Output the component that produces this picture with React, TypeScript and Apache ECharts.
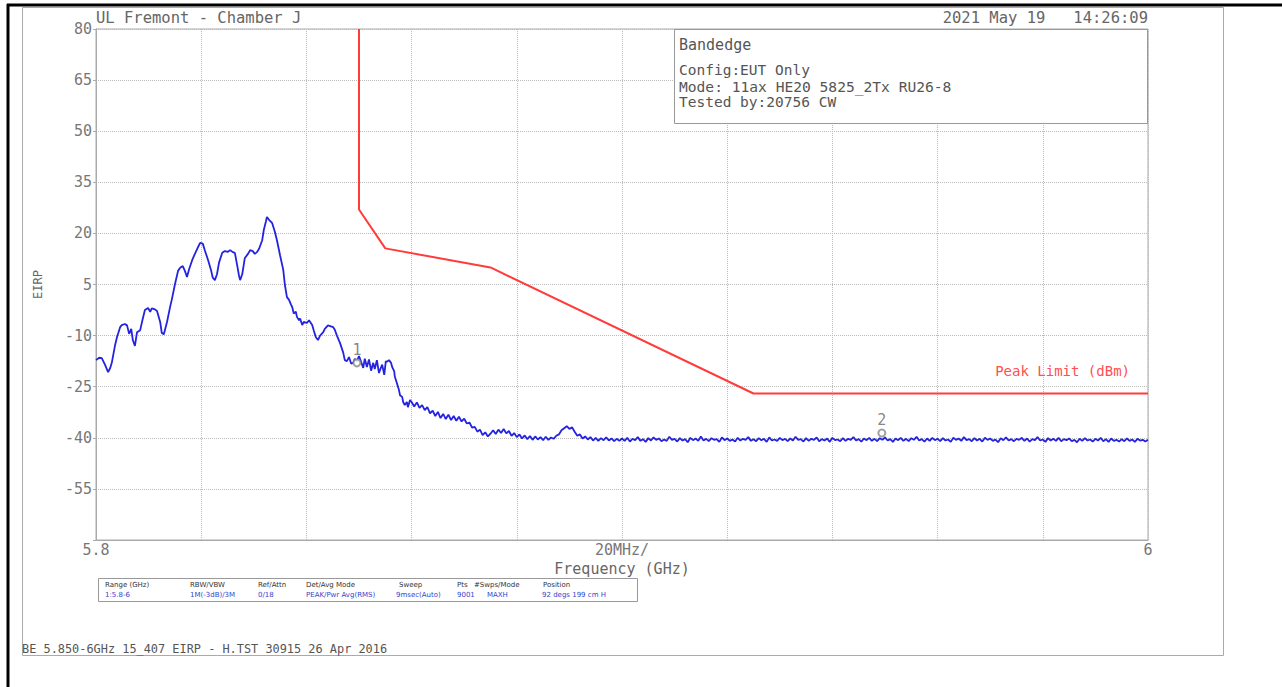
import React, { useEffect, useRef } from "react";
import * as echarts from "echarts";

// ---- data (frequencies in MHz, levels in dBm EIRP) ----
const TRACE_A_MHZ = [
  5800.0, 5800.6, 5801.1, 5801.7, 5802.3, 5802.7, 5803.0, 5803.6, 5804.0, 5804.6,
  5804.9, 5805.5, 5805.9, 5806.3, 5806.7, 5807.0, 5807.4, 5807.8, 5808.4, 5808.9,
  5809.3, 5809.9, 5810.3, 5810.6, 5811.2, 5811.6, 5812.2, 5812.5, 5812.9, 5813.5,
  5814.1, 5814.4, 5815.0, 5815.6, 5816.0, 5816.5, 5816.9, 5817.3, 5817.7, 5818.3,
  5818.8, 5819.4, 5819.8, 5820.3, 5820.7, 5821.3, 5821.9, 5822.2, 5822.6, 5823.0,
  5823.4, 5824.0, 5824.5, 5825.1, 5825.5, 5826.0, 5826.4, 5826.8, 5827.2, 5827.4,
  5827.8, 5828.3, 5828.9, 5829.3, 5829.8, 5830.2, 5830.6, 5831.0, 5831.6, 5831.9,
  5832.3, 5832.5, 5832.9, 5833.5, 5834.0, 5834.4, 5835.0, 5835.6, 5835.9, 5836.3,
  5836.7, 5837.1, 5837.3, 5837.6, 5838.0, 5838.2, 5838.6, 5838.8, 5839.2, 5839.5,
  5840.1, 5840.5, 5841.1, 5841.4, 5841.8, 5842.2, 5842.6, 5843.2, 5843.5, 5844.1,
  5844.5, 5845.1, 5845.4, 5845.8, 5846.4, 5847.0, 5847.3, 5847.7, 5848.1, 5848.5,
  5848.9, 5849.2, 5849.6, 5850.0, 5850.4, 5850.8, 5851.1, 5851.5, 5851.9, 5852.3,
  5852.7, 5853.0, 5853.4, 5853.8, 5854.0, 5854.4, 5854.8, 5855.1, 5855.3, 5855.7,
  5856.1, 5856.3, 5856.7, 5856.8, 5857.2, 5857.6, 5857.8, 5858.2, 5858.4, 5858.7,
  5859.1, 5859.3, 5859.7,
];
const TRACE_A_DBM = [
  -17.2, -16.5, -16.6, -18.5, -20.7, -19.5, -18.0, -13.0, -10.4, -7.5,
  -6.9, -6.6, -7.0, -9.5, -8.0, -11.3, -13.0, -9.0, -8.4, -5.0,
  -2.5, -1.9, -3.0, -2.0, -2.3, -2.8, -6.0, -9.2, -9.6, -6.0,
  -1.5, 0.5, 5.0, 9.0, 9.9, 10.4, 9.0, 7.2, 9.5, 12.2,
  14.0, 16.0, 17.2, 17.0, 15.0, 12.2, 9.0, 7.0, 6.3, 8.0,
  11.5, 14.3, 14.8, 14.6, 15.1, 14.5, 14.3, 11.0, 7.5, 6.3,
  8.0, 12.8, 14.0, 15.1, 14.8, 14.0, 14.5, 15.5, 18.0, 21.0,
  23.5, 24.8, 24.0, 23.0, 20.5, 18.0, 13.5, 9.3, 5.0, 1.3,
  0.5, -1.0, -1.6, -3.5, -3.0, -4.5, -5.5, -5.0, -6.9, -6.0,
  -6.3, -5.5, -6.9, -8.5, -10.5, -11.3, -10.0, -9.0, -8.0, -7.0,
  -7.2, -7.5, -8.3, -10.0, -12.2, -15.0, -17.2, -17.5, -16.3, -18.2,
  -18.0, -16.8, -17.5, -16.0, -17.7, -19.5, -16.8, -19.2, -17.0, -20.3,
  -18.0, -19.8, -17.2, -21.0, -20.1, -18.5, -21.5, -17.5, -17.7, -17.2,
  -18.0, -19.2, -20.5, -22.0, -23.9, -26.0, -27.5, -28.0, -29.5, -30.4,
  -29.5, -31.0, -28.9,
];
// second part of the sweep: regular 0.5 MHz steps from 5860 MHz
const SWEEP_START_MHZ = 5860;
const SWEEP_STEP_MHZ = 0.5;
const TRACE_B_DBM = [
  -29.5, -30.8, -29.6, -31.2, -30.4, -31.9, -31.0, -32.8, -32.0, -33.6,
  -32.4, -34.2, -33.0, -34.5, -33.2, -34.8, -33.6, -35.0, -33.8, -35.2,
  -34.4, -35.8, -35.5, -37.0, -36.8, -38.2, -37.6, -39.2, -38.4, -39.6,
  -38.8, -37.8, -38.9, -37.6, -38.6, -37.4, -38.7, -38.0, -39.4, -38.6,
  -39.8, -39.0, -40.2, -39.3, -40.4, -39.5, -40.6, -39.6, -40.5, -39.8,
  -40.7, -39.7, -40.6, -39.9, -40.3, -39.4, -39.0, -37.8, -37.2, -36.6,
  -37.4, -36.9, -38.2, -39.4, -39.0, -40.2, -39.6, -40.5, -39.8, -40.8,
  -40.0, -40.9, -40.1, -40.7, -39.9, -40.8, -40.2, -41.0, -40.3, -40.9,
  -40.2, -40.9, -40.0, -41.1, -40.3, -40.7, -39.8, -40.9, -40.4, -41.2,
  -40.1, -40.8, -39.9, -40.6, -40.2, -41.0, -40.5, -40.9, -39.7, -40.6,
  -40.3, -41.1, -40.1, -40.8, -40.4, -41.3, -40.0, -40.7, -40.2, -40.9,
  -39.6, -40.8, -40.3, -41.0, -40.1, -40.6, -40.4, -41.2, -39.9, -40.7,
  -40.2, -40.9, -40.5, -41.1, -40.0, -40.8, -40.3, -40.6, -39.8, -40.9,
  -40.4, -41.0, -40.1, -40.7, -40.3, -41.2, -39.9, -40.8, -40.5, -40.9,
  -40.0, -40.7, -40.3, -41.0, -40.2, -40.8, -39.7, -40.6, -40.4, -41.1,
  -40.1, -40.9, -40.3, -40.6, -39.9, -41.0, -40.4, -40.8, -40.2, -41.2,
  -40.0, -40.7, -40.5, -41.0, -40.1, -40.9, -40.3, -40.6, -39.8, -40.8,
  -40.4, -41.1, -40.2, -40.7, -40.0, -40.9, -40.3, -41.0, -40.1, -40.6,
  -39.9, -40.8, -40.4, -41.2, -40.2, -40.7, -40.0, -40.9, -40.3, -41.0,
  -40.1, -40.6, -39.7, -40.8, -40.4, -41.1, -40.2, -40.9, -40.0, -40.7,
  -40.3, -41.0, -40.1, -40.8, -40.5, -41.2, -40.0, -40.6, -40.2, -40.9,
  -39.8, -40.7, -40.4, -41.0, -40.1, -40.8, -40.3, -41.1, -40.0, -40.6,
  -40.2, -40.9, -40.5, -41.3, -40.1, -40.7, -39.9, -40.8, -40.4, -41.0,
  -40.3, -40.6, -40.0, -40.9, -40.2, -41.1, -40.4, -40.7, -39.8, -40.8,
  -40.5, -41.2, -40.1, -40.8, -40.3, -40.9, -40.0, -41.0, -40.4, -40.7,
  -40.2, -41.0, -40.6, -41.3, -40.3, -40.9, -40.1, -40.8, -40.5, -41.1,
  -40.3, -40.8, -40.0, -41.0, -40.4, -41.2, -40.2, -40.9, -40.6, -41.1,
  -40.4, -41.0, -40.2, -40.9, -40.5, -41.2, -40.3, -40.8, -40.6, -41.1,
  -40.6,
];

const LIMIT_MHZ = [5850, 5850, 5855, 5875, 5925, 6000];
const LIMIT_DBM = [80, 27, 15.6, 10, -27, -27];

const MARKER_MHZ = [5849.6, 5949.4];
const MARKER_DBM = [-18.0, -38.6];
const MARKER_LABELS = ["1", "2"];

const Y_MIN = -70;
const Y_MAX = 80;
const Y_STEP = 15;
const X_MIN = 5800;
const X_MAX = 6000;
const X_STEP = 20;

const TABLE_HEADERS = ["Range (GHz)", "RBW/VBW", "Ref/Attn", "Det/Avg Mode", "Sweep", "Pts", "#Swps/Mode", "Position"];
const TABLE_VALUES = ["1:5.8-6", "1M(-3dB)/3M", "0/18", "PEAK/Pwr Avg(RMS)", "9msec(Auto)", "9001", "MAXH", "92 degs 199 cm H"];
const TABLE_HEADER_X = [105, 190, 258, 306, 399, 457, 474, 543];
const TABLE_VALUE_X = [105, 190, 258, 306, 396, 457, 487, 542];

const MONO = "'DejaVu Sans Mono', monospace";

export default function App() {
  const ref = useRef<HTMLDivElement>(null);

  useEffect(() => {
    if (!ref.current) return;
    const chart = echarts.init(ref.current, null, { renderer: "svg" });

    const trace: number[][] = [];
    TRACE_A_MHZ.forEach((f, i) => trace.push([f, TRACE_A_DBM[i]]));
    TRACE_B_DBM.forEach((v, i) => trace.push([SWEEP_START_MHZ + i * SWEEP_STEP_MHZ, v]));
    const limit = LIMIT_MHZ.map((f, i) => [f, LIMIT_DBM[i]]);
    const markers = MARKER_MHZ.map((f, i) => ({ value: [f, MARKER_DBM[i]], name: MARKER_LABELS[i] }));

    const graphic: any[] = [
      // outer frame
      { type: "line", shape: { x1: 7, y1: 5, x2: 1282, y2: 5 }, style: { stroke: "#000", lineWidth: 3 }, z: 100 },
      { type: "line", shape: { x1: 8, y1: 4, x2: 8, y2: 687 }, style: { stroke: "#000", lineWidth: 3 }, z: 100 },
      { type: "rect", shape: { x: 22.5, y: 7.5, width: 1201, height: 648 }, style: { stroke: "#aaa", fill: "none", lineWidth: 1 }, z: 100 },
      // header
      { type: "text", x: 96, y: 18, style: { text: "UL Fremont - Chamber J", font: `15.5px ${MONO}`, fill: "#666", verticalAlign: "middle" }, z: 100 },
      { type: "text", x: 1148, y: 18, style: { text: "2021 May 19   14:26:09", font: `15.5px ${MONO}`, fill: "#666", align: "right", verticalAlign: "middle" }, z: 100 },
      // info box
      { type: "rect", shape: { x: 674.5, y: 29.5, width: 473, height: 94 }, style: { fill: "#fff", stroke: "#999", lineWidth: 1 }, z: 100 },
      { type: "text", x: 679, y: 45, style: { text: "Bandedge", font: `15px ${MONO}`, fill: "#555", verticalAlign: "middle" }, z: 101 },
      { type: "text", x: 679, y: 70, style: { text: "Config:EUT Only", font: `14.5px ${MONO}`, fill: "#555", verticalAlign: "middle" }, z: 101 },
      { type: "text", x: 679, y: 86, style: { text: "Mode: 11ax HE20 5825_2Tx RU26-8", font: `14.6px ${MONO}`, fill: "#555", verticalAlign: "middle" }, z: 101 },
      { type: "text", x: 679, y: 102, style: { text: "Tested by:20756 CW", font: `14.5px ${MONO}`, fill: "#555", verticalAlign: "middle" }, z: 101 },
      // limit label
      { type: "text", x: 1130, y: 371, style: { text: "Peak Limit (dBm)", font: `14px ${MONO}`, fill: "#ff5050", align: "right", verticalAlign: "middle" }, z: 100 },
      // settings table
      { type: "rect", shape: { x: 98.5, y: 578.5, width: 539, height: 23 }, style: { fill: "#fff", stroke: "#999", lineWidth: 1 }, z: 100 },
      ...TABLE_HEADERS.map((t, i) => ({
        type: "text", x: TABLE_HEADER_X[i], y: 585,
        style: { text: t, font: "7px 'DejaVu Sans', sans-serif", fill: "#333", verticalAlign: "middle" }, z: 101,
      })),
      ...TABLE_VALUES.map((t, i) => ({
        type: "text", x: TABLE_VALUE_X[i], y: 595,
        style: { text: t, font: "7px 'DejaVu Sans', sans-serif", fill: "#3344cc", verticalAlign: "middle" }, z: 101,
      })),
      // footer
      { type: "text", x: 22, y: 649, style: { text: "BE 5.850-6GHz 15_407 EIRP - H.TST 30915 26 Apr 2016", font: `11.9px ${MONO}`, fill: "#555", verticalAlign: "middle" }, z: 100 },
    ];

    chart.setOption({
      animation: false,
      backgroundColor: "#fff",
      grid: { left: 96, right: 134, top: 29, bottom: 147, show: true, borderColor: "#aaa", borderWidth: 1, backgroundColor: "#fff" },
      xAxis: {
        type: "value",
        min: X_MIN,
        max: X_MAX,
        interval: X_STEP,
        name: "Frequency (GHz)",
        nameLocation: "middle",
        nameGap: 21,
        nameTextStyle: { fontFamily: MONO, fontSize: 15, color: "#666" },
        axisLine: { show: true, onZero: false, lineStyle: { color: "#aaa" } },
        axisTick: { show: false },
        axisLabel: {
          margin: 2,
          fontFamily: MONO,
          fontSize: 15,
          color: "#777",
          showMinLabel: true,
          showMaxLabel: true,
          formatter: (v: number) => (v === 5800 ? "5.8" : v === 5900 ? "20MHz/" : v === 6000 ? "6" : ""),
        },
        splitLine: { show: true, lineStyle: { color: "#bbb", type: "dotted", width: 1 } },
      },
      yAxis: {
        type: "value",
        min: Y_MIN,
        max: Y_MAX,
        interval: Y_STEP,
        name: "EIRP",
        nameLocation: "middle",
        nameGap: 52,
        nameTextStyle: { fontFamily: MONO, fontSize: 12, color: "#666" },
        axisLine: { show: true, lineStyle: { color: "#aaa" } },
        axisTick: { show: true, length: 3, lineStyle: { color: "#aaa" } },
        axisLabel: {
          margin: 4,
          fontFamily: MONO,
          fontSize: 15,
          color: "#777",
          formatter: (v: number) => (v === Y_MIN ? "" : String(v)),
        },
        splitLine: { show: true, lineStyle: { color: "#bbb", type: "dotted", width: 1 } },
      },
      series: [
        {
          type: "line",
          name: "Peak Limit",
          data: limit,
          showSymbol: false,
          lineStyle: { color: "#ff3b3b", width: 2 },
          z: 3,
        },
        {
          type: "line",
          name: "EIRP",
          data: trace,
          showSymbol: false,
          lineStyle: { color: "#2323e0", width: 1.8 },
          z: 4,
        },
        {
          type: "scatter",
          name: "Markers",
          data: markers,
          symbol: "emptyCircle",
          symbolSize: 7,
          itemStyle: { color: "#888", borderColor: "#888", borderWidth: 1 },
          label: {
            show: true,
            position: "top",
            distance: 1,
            formatter: (p: any) => p.name,
            fontFamily: MONO,
            fontSize: 15,
            color: "#666",
          },
          z: 5,
        },
      ],
      graphic,
    });

    return () => chart.dispose();
  }, []);

  return <div ref={ref} style={{ position: "fixed", left: 0, top: 0, width: 1282, height: 687, background: "#fff" }} />;
}
